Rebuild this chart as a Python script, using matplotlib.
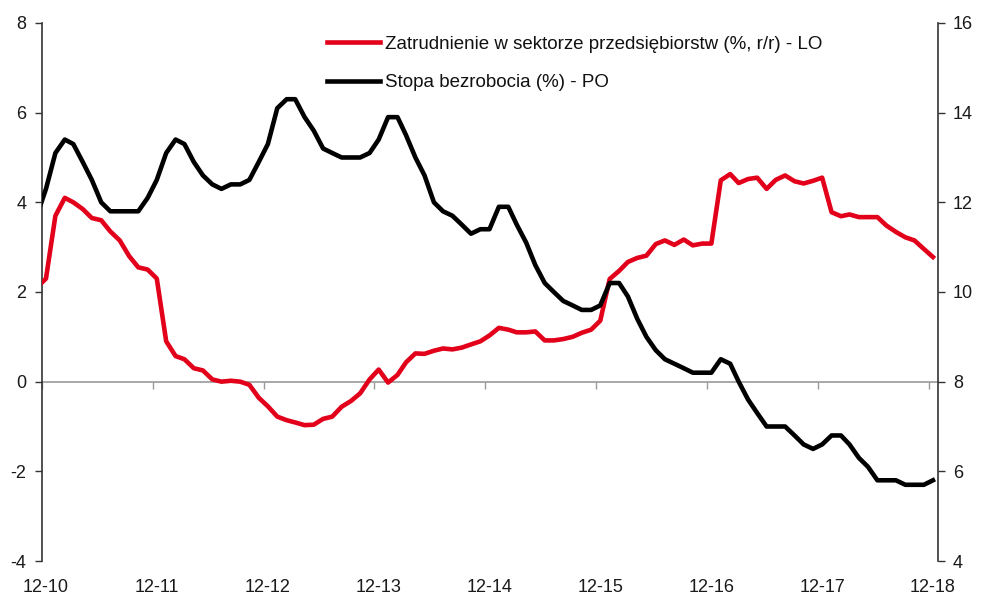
import matplotlib
matplotlib.use("Agg")
import matplotlib.pyplot as plt
from matplotlib import font_manager
from matplotlib.lines import Line2D
import pandas as pd
import numpy as np

# ---- data ----
months = pd.date_range("2010-11-01", "2018-12-01", freq="MS") + pd.Timedelta(days=14)

employment = [2.1,
    2.3, 3.7, 4.1, 4.0, 3.85, 3.65, 3.6, 3.35, 3.15, 2.8, 2.55, 2.5,
    2.3, 0.9, 0.57, 0.5, 0.3, 0.25, 0.05, 0.0, 0.02, 0.0, -0.07, -0.36,
    -0.55, -0.78, -0.86, -0.91, -0.97, -0.96, -0.83, -0.78, -0.56, -0.43, -0.26, 0.05,
    0.27, -0.02, 0.15, 0.43, 0.63, 0.62, 0.69, 0.74, 0.72, 0.76, 0.83, 0.9,
    1.03, 1.2, 1.16, 1.1, 1.1, 1.12, 0.92, 0.92, 0.95, 1.0, 1.09, 1.16,
    1.36, 2.29, 2.47, 2.67, 2.76, 2.81, 3.07, 3.15, 3.05, 3.17, 3.04, 3.08,
    3.08, 4.49, 4.63, 4.43, 4.52, 4.55, 4.3, 4.5, 4.6, 4.47, 4.42, 4.48,
    4.55, 3.78, 3.69, 3.73, 3.67, 3.67, 3.67, 3.48, 3.34, 3.22, 3.15, 2.96,
    2.78]

unemployment = [11.7,
    12.3, 13.1, 13.4, 13.3, 12.9, 12.5, 12.0, 11.8, 11.8, 11.8, 11.8, 12.1,
    12.5, 13.1, 13.4, 13.3, 12.9, 12.6, 12.4, 12.3, 12.4, 12.4, 12.5, 12.9,
    13.3, 14.1, 14.3, 14.3, 13.9, 13.6, 13.2, 13.1, 13.0, 13.0, 13.0, 13.1,
    13.4, 13.9, 13.9, 13.5, 13.0, 12.6, 12.0, 11.8, 11.7, 11.5, 11.3, 11.4,
    11.4, 11.9, 11.9, 11.5, 11.1, 10.6, 10.2, 10.0, 9.8, 9.7, 9.6, 9.6,
    9.7, 10.2, 10.2, 9.9, 9.4, 9.0, 8.7, 8.5, 8.4, 8.3, 8.2, 8.2,
    8.2, 8.5, 8.4, 8.0, 7.6, 7.3, 7.0, 7.0, 7.0, 6.8, 6.6, 6.5,
    6.6, 6.8, 6.8, 6.6, 6.3, 6.1, 5.8, 5.8, 5.8, 5.7, 5.7, 5.7,
    5.8]

tick_dates = pd.date_range("2010-12-01", "2018-12-01", freq="12MS")
label_dates = tick_dates + pd.Timedelta(days=14)
tick_labels = ["12-10", "12-11", "12-12", "12-13", "12-14", "12-15", "12-16", "12-17", "12-18"]

label_emp = "Zatrudnienie w sektorze przedsiębiorstw (%, r/r) - LO"
label_unemp = "Stopa bezrobocia (%) - PO"

left_ticks = [-4, -2, 0, 2, 4, 6, 8]
right_ticks = [4, 6, 8, 10, 12, 14, 16]

# ---- fonts ----
avail = {f.name for f in font_manager.fontManager.ttflist}
fams = [f for f in ["Liberation Sans Narrow", "Arial Narrow", "DejaVu Sans Condensed", "Liberation Sans", "DejaVu Sans"] if f in avail]
plt.rcParams["font.family"] = fams
plt.rcParams["axes.unicode_minus"] = False

RED = "#E2001A"
TXT = "#1a1a1a"
FS = 13
LFS = 13.5
LW = 3.3

fig = plt.figure(figsize=(9.82, 5.97), dpi=100)
ax = fig.add_axes([0.0425, 0.0603, 0.9125, 0.9012])
ax2 = ax.twinx()

ax.plot(months, employment, color=RED, lw=LW, solid_joinstyle="round", zorder=3)
ax2.plot(months, unemployment, color="black", lw=LW, solid_joinstyle="round", zorder=3)

xmin, xmax = pd.Timestamp("2010-12-01"), pd.Timestamp("2018-12-31")
ax.set_xlim(xmin, xmax)
ax.set_ylim(-4, 8)
ax2.set_ylim(4, 16)

ax.set_yticks(left_ticks)
ax2.set_yticks(right_ticks)

for a in (ax, ax2):
    a.spines["top"].set_visible(False)
    a.spines["bottom"].set_visible(False)

ax.spines["left"].set_color("#333333")
ax.spines["left"].set_linewidth(1.2)
ax2.spines["right"].set_color("#333333")
ax2.spines["right"].set_linewidth(1.2)
ax2.spines["left"].set_visible(False)
ax.spines["right"].set_visible(False)

ax.tick_params(axis="y", direction="out", length=5, width=1.0, color="#333333",
               labelsize=FS, labelcolor=TXT, pad=6)
ax2.tick_params(axis="y", direction="out", length=5, width=1.0, color="#333333",
                labelsize=FS, labelcolor=TXT, pad=6)

# bottom labels (centred on the December points)
ax.set_xticks(label_dates)
ax.set_xticklabels(tick_labels)
ax.tick_params(axis="x", length=0, labelsize=FS, labelcolor=TXT, pad=13)

# zero line with small ticks
sec = ax.secondary_xaxis(1/3)
sec.set_xticks(tick_dates)
sec.tick_params(axis="x", direction="out", length=5, width=1.0, color="#999999",
                labelbottom=False, labeltop=False)
sec.spines["bottom"].set_color("#999999")
sec.spines["bottom"].set_linewidth(1.2)
sec.set_zorder(1)

handles = [Line2D([], [], color=RED, lw=LW), Line2D([], [], color="black", lw=LW)]
leg = ax.legend(handles, [label_emp, label_unemp], loc="upper left",
                bbox_to_anchor=(0.318, 0.976), frameon=False, fontsize=LFS,
                handlelength=2.83, handletextpad=0.27, labelspacing=1.12,
                borderpad=0, borderaxespad=0)
for t in leg.get_texts():
    t.set_color("#111111")

fig.savefig("out.png", dpi=100)
